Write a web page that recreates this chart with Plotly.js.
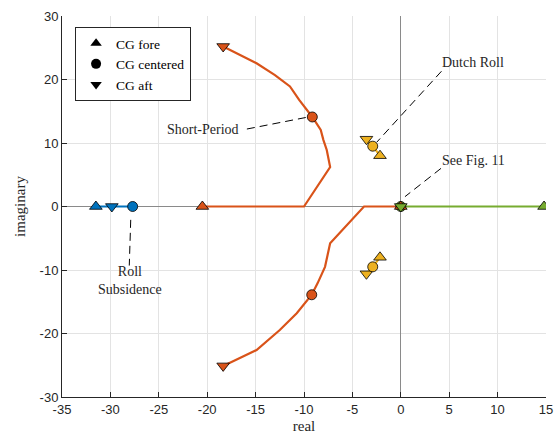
<!DOCTYPE html>
<html>
<head>
<meta charset="utf-8">
<script src="https://cdn.plot.ly/plotly-3.0.1.min.js"></script>
<style>html,body{margin:0;padding:0;background:#fff;}#chart{width:558px;height:439px;}</style>
</head>
<body>
<div id="chart"></div>
<script>
// ---- Data ----
// Roll subsidence (blue)
const rollX = [-31.5, -29.85, -27.7];
const rollY = [0, 0, 0];
const rollSym = ['triangle-up', 'triangle-down', 'circle'];

// Short period (orange) – two branches
const spUpperX = [-20.5, -10.0, -7.3, -7.65, -8.0, -8.27, -9.14, -10.5, -11.45, -13.0, -14.9, -18.35];
const spUpperY = [0, 0, 6.2, 8.9, 10.5, 12.05, 14.1, 16.8, 18.9, 20.7, 22.55, 25.2];
const spLowerX = [0, -3.8, -7.3, -7.83, -8.6, -9.2, -10.75, -12.5, -14.9, -18.35];
const spLowerY = [0, 0, -5.8, -9.5, -12.1, -13.9, -16.8, -19.45, -22.6, -25.1];
const spMarkX = [-20.5, -9.14, -18.35, 0, -9.2, -18.35];
const spMarkY = [0, 14.1, 25.2, 0, -13.9, -25.1];
const spSym = ['triangle-up', 'circle', 'triangle-down', 'triangle-up', 'circle', 'triangle-down'];

// Dutch roll (yellow)
const drX = [-2.15, -2.9, -3.55, null, -2.15, -2.9, -3.55];
const drY = [8.0, 9.5, 10.6, null, -8.0, -9.5, -10.6];
const drMarkX = [-3.55, -2.9, -2.15, -3.55, -2.9, -2.15];
const drMarkY = [10.6, 9.5, 8.0, -10.6, -9.5, -8.0];
const drSym = ['triangle-down', 'circle', 'triangle-up', 'triangle-down', 'circle', 'triangle-up'];

// Spiral (green)
const spiralX = [14.8, 0, 0];
const spiralY = [0, 0, 0];
const spiralSym = ['triangle-up', 'circle', 'triangle-down'];

// Legend entries
const legendNames = ['CG fore', 'CG centered', 'CG aft'];
const legendSym = ['triangle-up', 'circle', 'triangle-down'];

// Tick labels
const xTickVals = [-35, -30, -25, -20, -15, -10, -5, 0, 5, 10, 15];
const xTickText = ['-35', '-30', '-25', '-20', '-15', '-10', '-5', '0', '5', '10', '15'];
const yTickVals = [-30, -20, -10, 0, 10, 20, 30];
const yTickText = ['-30', '-20', '-10', '0', '10', '20', '30'];

// Annotation leader lines [x0, x1], [y0, y1]
const leaderDutchX = [4.2, -2.5];  const leaderDutchY = [21.3, 10.1];
const leaderFigX = [4.15, 0.43];   const leaderFigY = [6.0, 1.55];
const leaderSPX = [-15.9, -9.7];   const leaderSPY = [12.2, 14.05];
const leaderRollX = [-27.9, -28.05]; const leaderRollY = [-2.1, -9.3];

// Annotation labels
const labelTexts = ['Dutch Roll', 'See Fig. 11', 'Short-Period', 'Roll<br>Subsidence'];
const labelX = [4.1, 4.1, -16.5, -28.0];
const labelY = [22.7, 7.3, 12.2, -11.7];
const labelAnchor = ['left', 'left', 'right', 'center'];

// ---- Styling ----
const C = {blue: '#0072BD', orange: '#D95319', yellow: '#EDB120', green: '#77AC30'};
const serif = 'Liberation Serif, Times New Roman, serif';
const sans = 'Liberation Sans, Arial, sans-serif';
const symSize = s => s.map(v => v === 'circle' ? 10 : 11);
const mk = (color, sym) => ({color: color, symbol: sym, size: symSize(sym), opacity: 1, line: {color: '#000', width: 0.8}});

const traces = [];
function leader(xs, ys) {
  traces.push({x: xs, y: ys, mode: 'lines', line: {color: '#000', width: 1, dash: '8px,5px'}, showlegend: false, hoverinfo: 'skip'});
}
leader(leaderDutchX, leaderDutchY);
leader(leaderFigX, leaderFigY);
leader(leaderSPX, leaderSPY);
leader(leaderRollX, leaderRollY);

traces.push({x: rollX, y: rollY, mode: 'lines', line: {color: C.blue, width: 2.2}, showlegend: false});
traces.push({x: spUpperX, y: spUpperY, mode: 'lines', line: {color: C.orange, width: 2.2}, showlegend: false});
traces.push({x: spLowerX, y: spLowerY, mode: 'lines', line: {color: C.orange, width: 2.2}, showlegend: false});
traces.push({x: drX, y: drY, mode: 'lines', line: {color: C.yellow, width: 2.2}, showlegend: false, connectgaps: false});
traces.push({x: [spiralX[0], spiralX[2]], y: [spiralY[0], spiralY[2]], mode: 'lines', line: {color: C.green, width: 2.2}, showlegend: false});

traces.push({x: rollX, y: rollY, mode: 'markers', marker: mk(C.blue, rollSym), showlegend: false});
// green circle and fore marker first, so the origin cluster stacks like the reference
traces.push({x: spiralX.slice(0, 2), y: spiralY.slice(0, 2), mode: 'markers', marker: mk(C.green, spiralSym.slice(0, 2)), showlegend: false});
traces.push({x: spMarkX, y: spMarkY, mode: 'markers', marker: mk(C.orange, spSym), showlegend: false});
traces.push({x: drMarkX, y: drMarkY, mode: 'markers', marker: mk(C.yellow, drSym), showlegend: false});
traces.push({x: spiralX.slice(2), y: spiralY.slice(2), mode: 'markers', marker: mk(C.green, spiralSym.slice(2)), showlegend: false});

legendNames.forEach((n, i) => {
  traces.push({x: [null], y: [null], mode: 'markers', name: n,
    marker: {color: '#000', symbol: legendSym[i], size: 10, opacity: 1, line: {color: '#000', width: 0}}});
});

const annotations = labelTexts.map((t, i) => ({
  x: labelX[i], y: labelY[i], xref: 'x', yref: 'y', text: t, showarrow: false,
  xanchor: labelAnchor[i], yanchor: 'middle', align: 'center',
  font: {family: serif, size: 14, color: '#262626'}
}));

const axisCommon = {
  showgrid: true, gridcolor: '#e3e3e3', gridwidth: 1,
  zeroline: true, zerolinecolor: '#8a8a8a', zerolinewidth: 1,
  showline: true, linecolor: '#262626', linewidth: 1,
  ticks: 'inside', ticklen: 5, tickcolor: '#262626',
  tickfont: {family: sans, size: 13, color: '#262626'},
  tickmode: 'array',
  fixedrange: true
};

const layout = {
  width: 558, height: 439,
  margin: {l: 62, r: 12, t: 16, b: 42},
  paper_bgcolor: '#fff', plot_bgcolor: '#fff',
  xaxis: Object.assign({}, axisCommon, {range: [-35, 15], tickvals: xTickVals, ticktext: xTickText,
    title: {text: 'real', font: {family: serif, size: 15, color: '#262626'}, standoff: 4}}),
  yaxis: Object.assign({}, axisCommon, {range: [-30, 30], tickvals: yTickVals, ticktext: yTickText,
    title: {text: 'imaginary', font: {family: serif, size: 15, color: '#262626'}, standoff: 10}}),
  showlegend: true,
  legend: {x: 0.027, y: 0.971, xanchor: 'left', yanchor: 'top', bgcolor: '#fff',
    bordercolor: '#262626', borderwidth: 1, font: {family: serif, size: 13.5, color: '#000'},
    tracegroupgap: 0, itemwidth: 30},
  annotations: annotations
};

Plotly.newPlot('chart', traces, layout, {displayModeBar: false, staticPlot: true});
</script>
</body>
</html>
